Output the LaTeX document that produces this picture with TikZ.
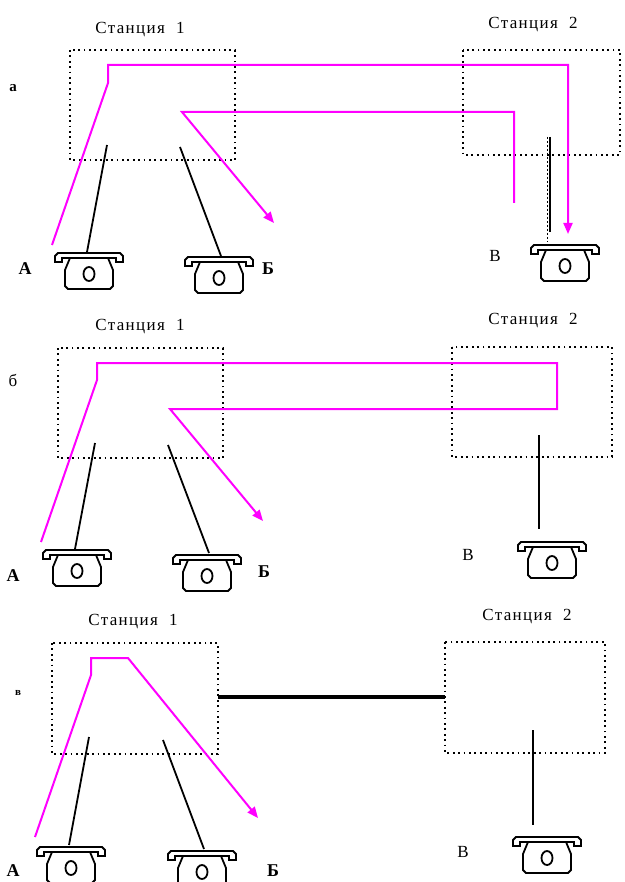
\documentclass[tikz,border=0pt]{standalone}
\usepackage{fontspec}
\setmainfont{Liberation Serif}
\usetikzlibrary{arrows.meta}
\definecolor{mag}{RGB}{255,0,255}
\tikzset{
  stbox/.style={draw, line width=1.8pt, dash pattern=on 1.8pt off 3.6pt},
  route/.style={draw=mag, line width=2pt},
  routearr/.style={route, -{Triangle[length=11pt,width=9pt]}},
  wire/.style={draw, line width=1.8pt},
  trunk/.style={draw, line width=4pt},
  lbl/.style={font=\fontsize{17}{19}\selectfont\addfontfeature{LetterSpace=8}, inner sep=0pt},
  let/.style={font=\fontsize{18}{20}\selectfont\bfseries, inner sep=0pt},
  phone/.pic={
    \draw[line width=1.8pt, fill=white] (-34,9) -- (-34,3) -- (-31,0) -- (31,0) -- (34,3) -- (34,9) -- (27,9) -- (27,5) -- (-27,5) -- (-27,9) -- cycle;
    \draw[line width=1.8pt] (-19,5) -- (-24,17) -- (-24,33) -- (-21,36) -- (21,36) -- (24,33) -- (24,17) -- (19,5);
    \draw[line width=1.8pt] (0,21) ellipse [x radius=5.5, y radius=7];
  }
}
\begin{document}
\begin{tikzpicture}[x=1pt,y=-1pt]
\path[use as bounding box, fill=white] (0,0) rectangle (624,882);

% ================= panel a =================
\node[lbl] (s1a) at (140,30) {Станция\ \ 1};
\node[lbl] (s2a) at (533,25) {Станция\ \ 2};
\node[lbl, font=\fontsize{15}{17}\selectfont\bfseries] (la) at (13,88) {а};
\path[stbox] (70,50) rectangle (235,160);
\path[stbox] (463,50) rectangle (620,155);
\coordinate (aA0) at (52,245);
\coordinate (aA1) at (108,83);
\coordinate (aA2) at (108,65);
\coordinate (aA3) at (568,65);
\coordinate (aAe) at (568,234);
\path[routearr] (aA0) -- (aA1) -- (aA2) -- (aA3) -- (aAe);
\coordinate (aB0) at (514,203);
\coordinate (aB1) at (514,112);
\coordinate (aB2) at (182,112);
\coordinate (aBe) at (274,223);
\path[routearr] (aB0) -- (aB1) -- (aB2) -- (aBe);
\coordinate (aw1) at (107,145);
\coordinate (apA) at (87,252);
\coordinate (aw2) at (180,147);
\coordinate (apB) at (221,256);
\coordinate (aw3) at (550,137);
\coordinate (apV) at (550,232);
\path[wire] (aw1) -- (apA);
\path[wire] (aw2) -- (apB);
\path[wire] (aw3) -- (apV);
\draw[line width=1.6pt, dash pattern=on 1.6pt off 2.4pt] ([xshift=-2.5pt]aw3) -- ([xshift=-2.5pt,yshift=-10pt]apV);
\pic at (89,253) {phone};
\pic at (219,257) {phone};
\pic at (565,245) {phone};
\node[let] (nA1) at (25,269) {А};
\node[let] (nB1) at (268,269) {Б};
\node[lbl] (nV1) at (495,256) {В};

% ================= panel b =================
\node[lbl] (s1b) at (140,327) {Станция\ \ 1};
\node[lbl] (s2b) at (533,321) {Станция\ \ 2};
\node[lbl] (lb) at (13,380) {б};
\path[stbox] (58,348) rectangle (223,458);
\path[stbox] (452,347) rectangle (612,457);
\coordinate (bA0) at (41,542);
\coordinate (bA1) at (97,380);
\coordinate (bA2) at (97,363);
\coordinate (bA3) at (557,363);
\coordinate (bA4) at (557,409);
\coordinate (bA5) at (170,409);
\coordinate (bAe) at (263,521);
\path[routearr] (bA0) -- (bA1) -- (bA2) -- (bA3) -- (bA4) -- (bA5) -- (bAe);
\coordinate (bw1) at (95,443);
\coordinate (bpA) at (75,549);
\coordinate (bw2) at (168,445);
\coordinate (bpB) at (209,553);
\coordinate (bw3) at (539,435);
\coordinate (bpV) at (539,529);
\path[wire] (bw1) -- (bpA);
\path[wire] (bw2) -- (bpB);
\path[wire] (bw3) -- (bpV);
\pic at (77,550) {phone};
\pic at (207,555) {phone};
\pic at (552,542) {phone};
\node[let] (nA2) at (13,576) {А};
\node[let] (nB2) at (264,572) {Б};
\node[lbl] (nV2) at (468,555) {В};

% ================= panel v =================
\node[lbl] (s1c) at (133,622) {Станция\ \ 1};
\node[lbl] (s2c) at (527,617) {Станция\ \ 2};
\node[lbl, font=\fontsize{11}{13}\selectfont\bfseries] (lc) at (18,693) {в};
\path[stbox] (52,643) rectangle (218,754);
\path[stbox] (445,642) rectangle (605,753);
\coordinate (t1) at (218,697);
\coordinate (t2) at (445,697);
\path[trunk] (t1) -- (t2);
\coordinate (cA0) at (35,837);
\coordinate (cA1) at (91,675);
\coordinate (cA2) at (91,658);
\coordinate (cA3) at (128,658);
\coordinate (cAe) at (258,818);
\path[routearr] (cA0) -- (cA1) -- (cA2) -- (cA3) -- (cAe);
\coordinate (cw1) at (89,737);
\coordinate (cpA) at (69,845);
\coordinate (cw2) at (163,740);
\coordinate (cpB) at (204,849);
\coordinate (cw3) at (533,730);
\coordinate (cpV) at (533,825);
\path[wire] (cw1) -- (cpA);
\path[wire] (cw2) -- (cpB);
\path[wire] (cw3) -- (cpV);
\pic at (71,847) {phone};
\pic at (202,851) {phone};
\pic at (547,837) {phone};
\node[let] (nA3) at (13,871) {А};
\node[let] (nB3) at (273,871) {Б};
\node[lbl] (nV3) at (463,852) {В};
\end{tikzpicture}
\end{document}
